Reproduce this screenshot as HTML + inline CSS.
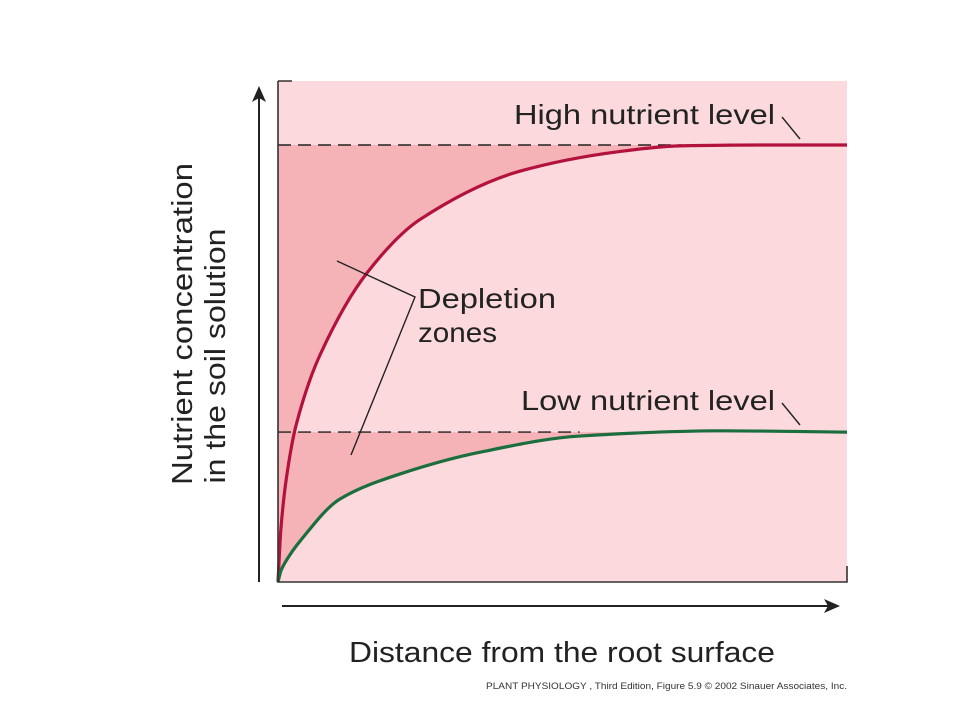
<!DOCTYPE html>
<html><head><meta charset="utf-8"><style>
html,body{margin:0;padding:0;background:#fff;}
svg{display:block;font-family:"Liberation Sans",sans-serif;}
</style></head><body>
<svg id="chart" width="960" height="720" viewBox="0 0 960 720">
<rect x="278" y="81" width="569" height="501" fill="#fcd9dc"/>
<g id="zones"></g>
<g id="dashes"></g>
<g id="curves"></g>
<path d="M278 81 V582 H847 V566 M278 81 H292" fill="none" stroke="#333" stroke-width="1.6"/>
<line x1="259" y1="582" x2="259" y2="96" stroke="#222" stroke-width="2"/>
<path d="M259 86 L252 102 L259 98 L266 102 Z" fill="#222"/>
<line x1="282" y1="606" x2="828" y2="606" stroke="#222" stroke-width="2"/>
<path d="M840 606 L824 599 L828 606 L824 613 Z" fill="#222"/>
<text x="514" y="124" font-size="28" textLength="261" lengthAdjust="spacingAndGlyphs" fill="#222">High nutrient level</text>
<line x1="782" y1="117" x2="800" y2="139" stroke="#222" stroke-width="1.4"/>
<text x="521" y="410" font-size="28" textLength="254" lengthAdjust="spacingAndGlyphs" fill="#222">Low nutrient level</text>
<line x1="782" y1="403" x2="800" y2="425" stroke="#222" stroke-width="1.4"/>
<text x="418" y="308" font-size="28" textLength="138" lengthAdjust="spacingAndGlyphs" fill="#222">Depletion</text>
<text x="418" y="342" font-size="28" textLength="79" lengthAdjust="spacingAndGlyphs" fill="#222">zones</text>
<path d="M337 261 L415 297 L351 455" fill="none" stroke="#222" stroke-width="1.4"/>
<text transform="translate(192,324) rotate(-90)" text-anchor="middle" font-size="29" textLength="322" lengthAdjust="spacingAndGlyphs" fill="#222">Nutrient concentration</text>
<text transform="translate(225,356) rotate(-90)" text-anchor="middle" font-size="29" textLength="255" lengthAdjust="spacingAndGlyphs" fill="#222">in the soil solution</text>
<text x="349" y="662" font-size="29" textLength="426" lengthAdjust="spacingAndGlyphs" fill="#222">Distance from the root surface</text>
<text x="486" y="689" font-size="9" textLength="361" lengthAdjust="spacingAndGlyphs" fill="#333">PLANT PHYSIOLOGY , Third Edition, Figure 5.9  © 2002 Sinauer Associates, Inc.</text>
</svg>
<script>
const highX = [0, 0.5, 1.5, 3.2, 7.4, 15.8, 25, 42.5, 60, 70.6, 85, 100];
const highY = [0, 12, 24, 36, 52, 71, 83, 94, 98.5, 99.8, 100, 100];
const lowX = [0, 0.5, 1.5, 3.9, 10.9, 21.4, 35.5, 53, 77.7, 100];
const lowY = [0, 2.5, 5, 9.4, 19, 24.7, 29.7, 33.4, 34.6, 34.3];
const highLevel = 100, lowLevel = 34.3;
const highDashEnd = 71, lowDashEnd = 53;
const X = v => 278 + v / 100 * 569;
const Y = v => 582 - v / 100 * 437;
const NS = 'http://www.w3.org/2000/svg';
// monotone cubic (Fritsch-Carlson) in data space, output as bezier in pixel space
function spline(xs, ys) {
  const n = xs.length, d = [], m = [];
  for (let i = 0; i < n - 1; i++) d.push((ys[i + 1] - ys[i]) / (xs[i + 1] - xs[i]));
  m[0] = d[0]; m[n - 1] = d[n - 2];
  for (let i = 1; i < n - 1; i++) m[i] = (d[i - 1] * d[i] <= 0) ? 0 : 2 / (1 / d[i - 1] + 1 / d[i]);
  let p = 'M' + X(xs[0]) + ' ' + Y(ys[0]);
  for (let i = 0; i < n - 1; i++) {
    const h = (xs[i + 1] - xs[i]) / 3;
    p += ` C${X(xs[i] + h)} ${Y(ys[i] + m[i] * h)} ${X(xs[i + 1] - h)} ${Y(ys[i + 1] - m[i + 1] * h)} ${X(xs[i + 1])} ${Y(ys[i + 1])}`;
  }
  return p;
}
const zones = document.getElementById('zones');
const curves = document.getElementById('curves');
const dashes = document.getElementById('dashes');
function zone(xs, ys, lvl, name) {
  const z = document.createElementNS(NS, 'path');
  z.setAttribute('d', spline(xs, ys) + ` L${X(100)} ${Y(lvl)} L${X(0)} ${Y(lvl)} Z`);
  z.setAttribute('fill', '#f5b3b8');
  
  
  zones.appendChild(z);
}
zone(highX, highY, highLevel, 'high-depletion-zone');
zone(lowX, lowY, lowLevel, 'low-depletion-zone');
function dash(lvl, end, name) {
  const l = document.createElementNS(NS, 'line');
  l.setAttribute('x1', X(0)); l.setAttribute('x2', X(end));
  l.setAttribute('y1', Y(lvl)); l.setAttribute('y2', Y(lvl));
  l.setAttribute('stroke', '#222'); l.setAttribute('stroke-width', '1.4');
  l.setAttribute('stroke-dasharray', '13 7');
  
  
  dashes.appendChild(l);
}
dash(highLevel, highDashEnd, 'high-level-dashed-line');
dash(lowLevel, lowDashEnd, 'low-level-dashed-line');
function curve(xs, ys, color, name) {
  const c = document.createElementNS(NS, 'path');
  c.setAttribute('d', spline(xs, ys));
  c.setAttribute('fill', 'none'); c.setAttribute('stroke', color);
  c.setAttribute('stroke-width', '3.2');
  
  
  curves.appendChild(c);
}
curve(highX, highY, '#b3123d', 'high-nutrient-curve');
curve(lowX, lowY, '#1b6e3e', 'low-nutrient-curve');
</script>
</body></html>
